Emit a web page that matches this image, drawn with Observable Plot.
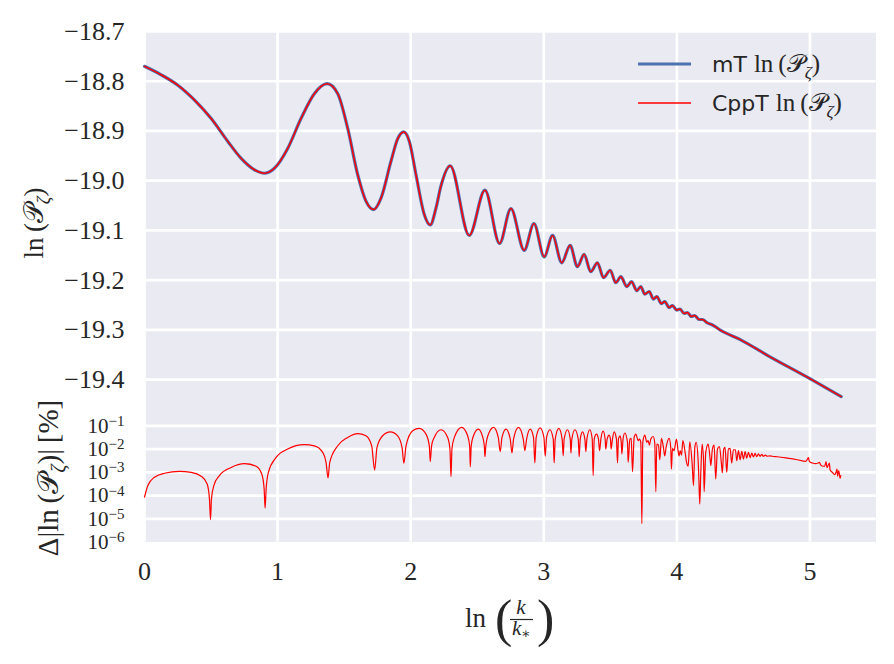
<!DOCTYPE html>
<html>
<head>
<meta charset="utf-8">
<script src="https://cdn.jsdelivr.net/npm/d3@7"></script>
<script src="https://cdn.jsdelivr.net/npm/@observablehq/plot@0.6"></script>
<style>
  html, body { margin: 0; padding: 0; background: #ffffff; }
  #wrap { position: relative; width: 894px; height: 664px; overflow: hidden; }
  #bgpanel { position: absolute; left: 144px; top: 31px; width: 732px; height: 510.6px; background: #EAEAF2; }
  #top, #bot { position: absolute; left: 0; }
  #top { top: 0; }
  #bot { top: 409px; }
  #overlay { position: absolute; left: 0; top: 0; pointer-events: none; }
</style>
</head>
<body>
<div id="wrap">
  <div id="bgpanel"></div>
  <div id="top"></div>
  <div id="bot"></div>
</div>
<script>
// ---------- data ----------
// x: ln(k/k*)
const topX = [0.000,0.125,0.250,0.376,0.501,0.626,0.726,0.826,0.901,0.976,1.076,1.176,1.276,1.372,1.452,1.527,1.602,1.664,1.722,1.777,1.852,1.902,1.947,1.990,2.040,2.102,2.147,2.190,2.227,2.297,2.440,2.558,2.668,2.753,2.853,2.926,3.003,3.066,3.135,3.198,3.253,3.303,3.353,3.403,3.449,3.499,3.541,3.579,3.624,3.659,3.699,3.729,3.759,3.792,3.824,3.849,3.884,3.909,3.942,3.967,3.999,4.024,4.054,4.079,4.109,4.134,4.167,4.192,4.229,4.267,4.330,4.480,4.680,5.000,5.235];
// ln(P_zeta) for mT and CppT (identical to within line width)
const lnP_mT = [-18.770,-18.787,-18.808,-18.838,-18.875,-18.921,-18.955,-18.978,-18.985,-18.975,-18.935,-18.875,-18.825,-18.805,-18.825,-18.895,-18.988,-19.041,-19.058,-19.035,-18.961,-18.916,-18.902,-18.921,-18.988,-19.068,-19.089,-19.055,-19.011,-18.970,-19.110,-19.019,-19.126,-19.056,-19.140,-19.086,-19.153,-19.110,-19.165,-19.130,-19.173,-19.148,-19.183,-19.165,-19.195,-19.180,-19.205,-19.193,-19.213,-19.203,-19.221,-19.213,-19.228,-19.223,-19.238,-19.233,-19.247,-19.243,-19.255,-19.251,-19.260,-19.258,-19.267,-19.265,-19.273,-19.271,-19.279,-19.279,-19.286,-19.290,-19.301,-19.320,-19.351,-19.398,-19.434];
const lnP_CppT = [-18.770,-18.787,-18.808,-18.838,-18.875,-18.921,-18.955,-18.978,-18.985,-18.975,-18.935,-18.875,-18.825,-18.805,-18.825,-18.895,-18.988,-19.041,-19.058,-19.035,-18.961,-18.916,-18.902,-18.921,-18.988,-19.068,-19.089,-19.055,-19.011,-18.970,-19.110,-19.019,-19.126,-19.056,-19.140,-19.086,-19.153,-19.110,-19.165,-19.130,-19.173,-19.148,-19.183,-19.165,-19.195,-19.180,-19.205,-19.193,-19.213,-19.203,-19.221,-19.213,-19.228,-19.223,-19.238,-19.233,-19.247,-19.243,-19.255,-19.251,-19.260,-19.258,-19.267,-19.265,-19.273,-19.271,-19.279,-19.279,-19.286,-19.290,-19.301,-19.320,-19.351,-19.398,-19.434];

// relative difference, stored as log10 of the percentage
const diffX = [0.000,0.008,0.025,0.075,0.150,0.263,0.351,0.426,0.471,0.488,0.496,0.503,0.521,0.563,0.651,0.751,0.838,0.881,0.899,0.906,0.914,0.931,0.989,1.076,1.201,1.276,1.339,1.364,1.379,1.392,1.452,1.527,1.602,1.664,1.707,1.729,1.747,1.789,1.847,1.902,1.935,1.949,1.965,2.015,2.065,2.115,2.140,2.147,2.157,2.177,2.228,2.278,2.295,2.303,2.310,2.328,2.383,2.428,2.443,2.448,2.455,2.470,2.508,2.540,2.553,2.558,2.565,2.578,2.623,2.658,2.673,2.686,2.716,2.748,2.761,2.773,2.810,2.846,2.858,2.871,2.898,2.923,2.933,2.943,2.973,3.001,3.011,3.021,3.046,3.071,3.078,3.086,3.113,3.138,3.146,3.153,3.178,3.199,3.204,3.211,3.234,3.259,3.266,3.274,3.291,3.309,3.316,3.324,3.346,3.364,3.371,3.379,3.396,3.411,3.419,3.429,3.446,3.461,3.466,3.476,3.491,3.501,3.506,3.516,3.529,3.546,3.554,3.561,3.574,3.582,3.587,3.596,3.609,3.629,3.634,3.647,3.657,3.667,3.679,3.692,3.709,3.719,3.729,3.737,3.744,3.759,3.774,3.784,3.794,3.804,3.822,3.834,3.842,3.849,3.862,3.872,3.884,3.899,3.909,3.919,3.942,3.954,3.959,3.967,3.979,3.997,4.009,4.017,4.025,4.035,4.045,4.062,4.072,4.085,4.097,4.115,4.125,4.135,4.145,4.160,4.165,4.172,4.180,4.190,4.200,4.205,4.217,4.235,4.250,4.255,4.267,4.280,4.292,4.305,4.320,4.335,4.342,4.352,4.362,4.375,4.387,4.400,4.412,4.425,4.440,4.450,4.463,4.475,4.488,4.500,4.513,4.525,4.538,4.550,4.563,4.575,4.588,4.600,4.613,4.625,4.638,4.650,4.665,4.680,4.698,4.718,4.755,4.830,4.905,4.968,4.981,4.988,4.996,5.018,5.043,5.061,5.071,5.081,5.101,5.111,5.121,5.128,5.138,5.146,5.151,5.168,5.186,5.196,5.203,5.208,5.216,5.221,5.226,5.232];
const diffLog10 = [-4.07,-3.89,-3.57,-3.21,-3.04,-2.96,-3.00,-3.17,-3.50,-4.14,-5.03,-4.14,-3.57,-3.14,-2.79,-2.63,-2.74,-3.07,-3.71,-4.54,-3.71,-3.00,-2.36,-2.00,-1.81,-1.86,-2.14,-2.57,-3.24,-2.57,-1.86,-1.50,-1.34,-1.43,-1.86,-2.90,-1.93,-1.43,-1.26,-1.43,-1.93,-2.61,-1.86,-1.21,-1.11,-1.36,-1.86,-2.54,-1.86,-1.50,-1.17,-1.50,-2.00,-3.19,-2.00,-1.50,-1.07,-1.43,-1.86,-2.76,-1.86,-1.46,-1.14,-1.46,-1.86,-2.33,-1.86,-1.46,-1.07,-1.50,-2.11,-1.50,-1.14,-1.57,-2.17,-1.57,-1.07,-1.57,-2.07,-1.57,-1.14,-1.50,-2.60,-1.50,-1.09,-1.50,-2.31,-1.50,-1.17,-1.57,-2.60,-1.57,-1.11,-1.57,-2.29,-1.57,-1.17,-1.57,-2.17,-1.57,-1.17,-1.57,-2.33,-1.57,-1.26,-1.57,-2.11,-1.57,-1.17,-1.57,-3.14,-1.57,-1.36,-1.57,-2.07,-1.57,-1.23,-1.57,-2.00,-1.57,-1.40,-1.57,-2.00,-1.57,-1.26,-1.57,-2.60,-1.57,-1.43,-1.70,-2.21,-1.55,-1.31,-1.71,-2.57,-1.57,-1.54,-2.97,-1.50,-1.36,-1.64,-1.57,-1.71,-5.21,-1.71,-1.40,-1.71,-1.64,-1.83,-1.57,-1.46,-1.74,-3.83,-1.79,-1.83,-2.46,-1.54,-1.93,-2.29,-1.93,-1.54,-1.93,-2.86,-1.97,-2.07,-1.57,-2.07,-2.29,-2.07,-2.26,-1.64,-2.14,-2.54,-2.74,-1.69,-2.64,-3.57,-1.93,-1.71,-2.50,-3.21,-4.36,-3.00,-1.79,-2.43,-3.83,-2.14,-1.79,-2.43,-2.71,-2.00,-1.83,-3.29,-2.00,-1.89,-2.64,-3.03,-2.00,-1.93,-3.00,-2.00,-1.97,-2.60,-2.03,-2.03,-2.50,-2.07,-2.46,-2.10,-2.43,-2.11,-2.39,-2.14,-2.37,-2.17,-2.34,-2.19,-2.33,-2.21,-2.31,-2.23,-2.31,-2.26,-2.31,-2.29,-2.31,-2.33,-2.39,-2.46,-2.53,-2.43,-2.37,-2.54,-2.60,-2.63,-2.60,-2.57,-2.69,-2.74,-2.74,-2.54,-2.80,-2.69,-2.60,-2.89,-3.00,-3.10,-3.00,-2.86,-3.17,-2.93,-3.07,-3.26,-3.14];

// tick values
const xTicks = [0, 1, 2, 3, 4, 5];
const topYTicks = [-18.7, -18.8, -18.9, -19.0, -19.1, -19.2, -19.3, -19.4];
const botYTicks = [1e-1, 1e-2, 1e-3, 1e-4, 1e-5, 1e-6];

// ---------- build tables ----------
const topData = topX.map((x, i) => ({x, y: lnP_mT[i], s: "mT"}));
const topData2 = topX.map((x, i) => ({x, y: lnP_CppT[i], s: "CppT"}));
const diffData = diffX.map((x, i) => ({x, y: Math.pow(10, diffLog10[i])}));

const TXT = "#262626";
const serif = "'Liberation Serif', 'DejaVu Serif', serif";

const topPlot = Plot.plot({
  width: 894, height: 409,
  marginTop: 31, marginBottom: 0, marginLeft: 144, marginRight: 18,
  style: {fontFamily: serif, fontSize: "26px", color: TXT, background: "transparent", overflow: "visible"},
  x: {domain: [0, 5.5], axis: null},
  y: {domain: [-19.46, -18.7], axis: null},
  marks: [
    Plot.gridY(topYTicks, {stroke: "white", strokeOpacity: 1, strokeWidth: 2.7}),
    Plot.gridX(xTicks, {stroke: "white", strokeOpacity: 1, strokeWidth: 2.7}),
    Plot.axisY(topYTicks, {tickSize: 0, tickPadding: 20, label: null, tickFormat: d3.format(".1f"), fontSize: 26}),
    Plot.line(topData, {x: "x", y: "y", stroke: "#4C72B0", strokeWidth: 3.2, curve: "monotone-x"}),
    Plot.line(topData2, {x: "x", y: "y", stroke: "#FF0000", strokeWidth: 1.5, curve: "monotone-x"})
  ]
});
document.getElementById("top").appendChild(topPlot);

const botPlot = Plot.plot({
  width: 894, height: 255,
  marginTop: 0, marginBottom: 122.4, marginLeft: 144, marginRight: 18,
  style: {fontFamily: serif, fontSize: "26px", color: TXT, background: "transparent", overflow: "visible"},
  x: {domain: [0, 5.5]},
  y: {type: "log", domain: [1e-6, Math.pow(10, -0.3)]},
  marks: [
    Plot.gridY(botYTicks.slice(0, 5), {stroke: "white", strokeOpacity: 1, strokeWidth: 2.7}),
    Plot.gridX(xTicks, {stroke: "white", strokeOpacity: 1, strokeWidth: 2.7}),
    Plot.axisX(xTicks, {tickSize: 0, tickPadding: 19, label: null, tickFormat: d3.format("d"), fontSize: 26}),
    Plot.axisY(botYTicks, {tickSize: 0, tickPadding: 20, label: null, fontSize: 21,
      tickFormat: d => "10^" + Math.round(Math.log10(d))}),
    Plot.line(diffData, {x: "x", y: "y", stroke: "#FF0000", strokeWidth: 1.2, curve: "monotone-x"})
  ]
});
document.getElementById("bot").appendChild(botPlot);

// render exponents of the log tick labels as superscripts
d3.select(botPlot).selectAll("text").each(function() {
  const t = this.textContent;
  const m = /^10\^(-?\d+)$/.exec(t);
  if (!m) return;
  const el = d3.select(this);
  el.text(null);
  el.append("tspan").text("10");
  el.append("tspan").attr("dy", "-0.45em").attr("font-size", "15px").text(m[1].replace("-", "\u2212"));
});

// ---------- overlay: legend and axis titles ----------
const ov = d3.select("#wrap").append("svg")
  .attr("id", "overlay").attr("width", 894).attr("height", 664)
  .style("font-family", serif).style("fill", TXT);

function mathP(sel, size) {
  // appends ln(𝒫_ζ)
  sel.append("tspan").text("ln\u2009(");
  sel.append("tspan").text("\uD835\uDCAB");
  sel.append("tspan").attr("font-size", (size * 0.7) + "px").attr("dy", size * 0.25).attr("font-style", "italic").text("ζ");
  sel.append("tspan").attr("dy", -size * 0.25).text(")");
}

const legend = [
  {name: "mT", color: "#4C72B0", w: 3.2, y: 64},
  {name: "CppT", color: "#FF0000", w: 1.5, y: 103}
];
legend.forEach(l => {
  ov.append("line").attr("x1", 638).attr("x2", 691).attr("y1", l.y).attr("y2", l.y)
    .attr("stroke", l.color).attr("stroke-width", l.w);
  const t = ov.append("text").attr("x", 712).attr("y", l.y + 8).attr("font-size", "25px");
  t.append("tspan").attr("font-family", "'DejaVu Sans', sans-serif").attr("font-size", "22px").text(l.name + " ");
  mathP(t, 25);
});

// top y title
const ty = ov.append("text").attr("transform", "translate(43,223) rotate(-90)")
  .attr("text-anchor", "middle").attr("font-size", "27px");
mathP(ty, 27);

// bottom y title
const by = ov.append("text").attr("transform", "translate(58,478) rotate(-90)")
  .attr("text-anchor", "middle").attr("font-size", "29px");
by.append("tspan").text("Δ|");
mathP(by, 29);
by.append("tspan").text("|\u2009[%]");

// x title: ln(k / k*)
const xt = ov.append("g");
xt.append("text").attr("x", 465).attr("y", 627).attr("font-size", "27px").text("ln");
xt.append("text").attr("x", 495).attr("y", 636).attr("font-size", "52px").text("(");
xt.append("text").attr("x", 521).attr("y", 614).attr("font-size", "21px").attr("font-style", "italic").attr("text-anchor", "middle").text("k");
xt.append("line").attr("x1", 510).attr("x2", 533).attr("y1", 619.5).attr("y2", 619.5).attr("stroke", TXT).attr("stroke-width", 1.2);
const kb = xt.append("text").attr("x", 512).attr("y", 635).attr("font-size", "21px").attr("font-style", "italic");
kb.append("tspan").text("k");
kb.append("tspan").attr("font-size", "14px").attr("dy", 3).attr("font-style", "normal").text("∗");
xt.append("text").attr("x", 537).attr("y", 636).attr("font-size", "52px").text(")");
</script>
</body>
</html>
